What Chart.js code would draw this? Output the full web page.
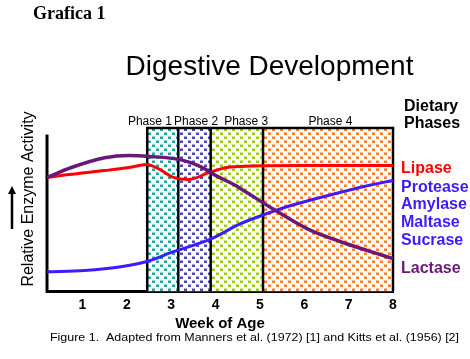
<!DOCTYPE html>
<html><head><meta charset="utf-8">
<script src="https://cdn.jsdelivr.net/npm/chart.js@4.4.1/dist/chart.umd.min.js"></script>
<style>html,body{margin:0;padding:0;background:#fff;} canvas{display:block;}</style>
</head><body>
<canvas id="c" width="470" height="359"></canvas>
<script>
// ---- data ----
const tickLabels = ['1','2','3','4','5','6','7','8'];
const lipaseWeeks  = [0.2, 0.7, 1.5, 2.05, 2.45, 2.75, 3.05, 3.4, 3.85, 4.25, 4.8, 6.0, 8.0];
const lipaseValues = [69.7, 71.5, 73.9, 75.8, 77.6, 74.5, 69.7, 68.5, 72.7, 75.8, 76.7, 77.0, 77.0];
const lactaseWeeks  = [0.2, 0.75, 1.5, 2.05, 2.5, 3.2, 3.65, 4.03, 4.4, 4.56, 5.3, 6.07, 6.82, 8.0];
const lactaseValues = [69.7, 75.8, 81.8, 83.2, 82.6, 80.6, 76.5, 70.5, 65.5, 63.0, 50.3, 38.2, 30.3, 20.0];
const proteaseWeeks  = [0.2, 1.05, 1.9, 2.45, 3.05, 3.9, 4.55, 5.1, 5.7, 6.8, 7.35, 8.0];
const proteaseValues = [11.9, 12.7, 15.2, 18.2, 24.2, 32.1, 41.2, 47.0, 52.5, 60.5, 64.2, 67.9];
const phaseNames = ['Phase 1','Phase 2','Phase 3','Phase 4'];
const phaseBounds = [2.46, 3.16, 3.89, 5.07, 8.0];
const phaseLabelWeeks = [2.52, 3.56, 4.69, 6.59];
const enzymeLabels = ['Lipase','Protease','Amylase','Maltase','Sucrase','Lactase'];

// ---- styles ----
const RED = '#ff0000', BLUE = '#3a1cff', PURPLE = '#6a1878';
const phaseColors = ['#1ea3a6','#4a4ab2','#98cc14','#ff7d26'];
const phaseLight  = ['#8fd3d4','#a5a5d9','#cce68a','#ffbe92'];
const enzymeColors = [RED, BLUE, BLUE, BLUE, BLUE, PURPLE];
const enzymeLabelY = [169, 188, 205, 223, 241, 269];

function pts(xs, ys){ return xs.map((x,i)=>({x:x, y:ys[i]})); }

function makePattern(ctx, color, light){
  const t = document.createElement('canvas');
  t.width = 8; t.height = 8;
  const g = t.getContext('2d');
  g.fillStyle = '#fff'; g.fillRect(0,0,8,8);
  g.fillStyle = light;
  g.fillRect(0,0,3,3);
  g.fillRect(4,4,3,3);
  g.fillStyle = color;
  g.fillRect(0,1,3,2);
  g.fillRect(4,5,3,2);
  return ctx.createPattern(t,'repeat');
}

const phasePlugin = {
  id: 'phases',
  beforeDatasetsDraw(chart){
    const {ctx, scales:{x, y}} = chart;
    const top = y.getPixelForValue(100), bot = y.getPixelForValue(0);
    ctx.save();
    for (let i=0;i<phaseNames.length;i++){
      const x0 = x.getPixelForValue(phaseBounds[i]), x1 = x.getPixelForValue(phaseBounds[i+1]);
      ctx.fillStyle = makePattern(ctx, phaseColors[i], phaseLight[i]);
      ctx.fillRect(x0, top, x1-x0, bot-top);
    }
    ctx.strokeStyle = '#000';
    ctx.lineWidth = 2.5;
    for (const b of phaseBounds){
      const px = x.getPixelForValue(b);
      ctx.beginPath(); ctx.moveTo(px, top); ctx.lineTo(px, bot); ctx.stroke();
    }
    ctx.beginPath();
    ctx.moveTo(x.getPixelForValue(phaseBounds[0]) - 1.25, top);
    ctx.lineTo(x.getPixelForValue(phaseBounds[phaseBounds.length-1]) + 1.25, top);
    ctx.stroke();
    // left axis
    ctx.lineWidth = 3;
    ctx.beginPath();
    ctx.moveTo(chart.chartArea.left, y.getPixelForValue(96));
    ctx.lineTo(chart.chartArea.left, bot + 1.5);
    ctx.stroke();
    // phase labels
    ctx.fillStyle = '#000';
    ctx.font = '12px "Liberation Sans", Arial, sans-serif';
    ctx.textAlign = 'center'; ctx.textBaseline = 'middle';
    phaseNames.forEach((n,i)=> ctx.fillText(n, x.getPixelForValue(phaseLabelWeeks[i]), top - 6));
    ctx.restore();
  },
  afterDraw(chart){
    const {ctx, chartArea} = chart;
    ctx.save();
    ctx.fillStyle = '#000';
    ctx.textBaseline = 'alphabetic';
    ctx.textAlign = 'left';
    ctx.font = 'bold 18px "Liberation Serif", "Times New Roman", serif';
    ctx.fillText('Grafica 1', 33, 19);
    ctx.textAlign = 'center';
    ctx.font = '28px "Liberation Sans", Arial, sans-serif';
    ctx.fillText('Digestive Development', 269.5, 75);
    // Dietary Phases
    ctx.textAlign = 'left'; ctx.textBaseline = 'middle';
    ctx.font = 'bold 16px "Liberation Sans", Arial, sans-serif';
    ctx.fillText('Dietary', chartArea.right + 11, 107);
    ctx.fillText('Phases', chartArea.right + 11, 124);
    enzymeLabels.forEach((t,i)=>{
      ctx.fillStyle = enzymeColors[i];
      ctx.fillText(t, chartArea.right + 8, enzymeLabelY[i]);
    });
    // y title
    ctx.fillStyle = '#000';
    ctx.save();
    ctx.translate(29, 199);
    ctx.rotate(-Math.PI/2);
    ctx.font = '16px "Liberation Sans", Arial, sans-serif';
    ctx.textAlign = 'center'; ctx.textBaseline = 'middle';
    ctx.fillText('Relative Enzyme Activity', 0, 0);
    ctx.restore();
    // arrow
    ctx.strokeStyle = '#000'; ctx.lineWidth = 2.5;
    ctx.beginPath(); ctx.moveTo(12, 229); ctx.lineTo(12, 192); ctx.stroke();
    ctx.beginPath(); ctx.moveTo(12, 186); ctx.lineTo(8, 194); ctx.lineTo(16, 194); ctx.closePath(); ctx.fill();
    // caption
    ctx.save();
    ctx.font = '10px "Liberation Sans", Arial, sans-serif';
    const cap = 'Figure 1.  Adapted from Manners et al. (1972) [1] and Kitts et al. (1956) [2]';
    const cw = ctx.measureText(cap).width;
    ctx.translate(50, 338);
    ctx.scale(409 / cw, 1);
    ctx.textAlign = 'left'; ctx.textBaseline = 'middle';
    ctx.fillText(cap, 0, 0);
    ctx.restore();
    ctx.restore();
  }
};

new Chart(document.getElementById('c'), {
  type: 'line',
  data: {
    datasets: [
      { label: 'Lactase', data: pts(lactaseWeeks, lactaseValues), borderColor: PURPLE, borderWidth: 3.5 },
      { label: 'Protease', data: pts(proteaseWeeks, proteaseValues), borderColor: BLUE, borderWidth: 3 },
      { label: 'Lipase', data: pts(lipaseWeeks, lipaseValues), borderColor: RED, borderWidth: 3 }
    ]
  },
  options: {
    responsive: false,
    animation: false,
    devicePixelRatio: 1,
    layout: { padding: { left: 47, right: 77, top: 128, bottom: 28 } },
    elements: { point: { radius: 0 }, line: { cubicInterpolationMode: 'monotone', fill: false } },
    plugins: { legend: { display: false }, tooltip: { enabled: false }, title: { display: false } },
    scales: {
      x: {
        type: 'linear', min: 0.2, max: 8,
        grid: { display: false, drawTicks: false },
        border: { display: true, color: '#000', width: 3 },
        ticks: {
          includeBounds: false, stepSize: 1, padding: 6, maxRotation: 0, autoSkip: false,
          color: '#000', font: { family: '"Liberation Sans", Arial, sans-serif', size: 14, weight: 'bold' },
          callback: (v) => tickLabels[v - 1]
        },
        title: { display: true, text: 'Week of Age', color: '#000', padding: { top: -4, bottom: 0 },
          font: { family: '"Liberation Sans", Arial, sans-serif', size: 15, weight: 'bold', lineHeight: 1.0 } }
      },
      y: { display: false, min: 0, max: 100 }
    }
  },
  plugins: [phasePlugin]
});
</script>
</body></html>
